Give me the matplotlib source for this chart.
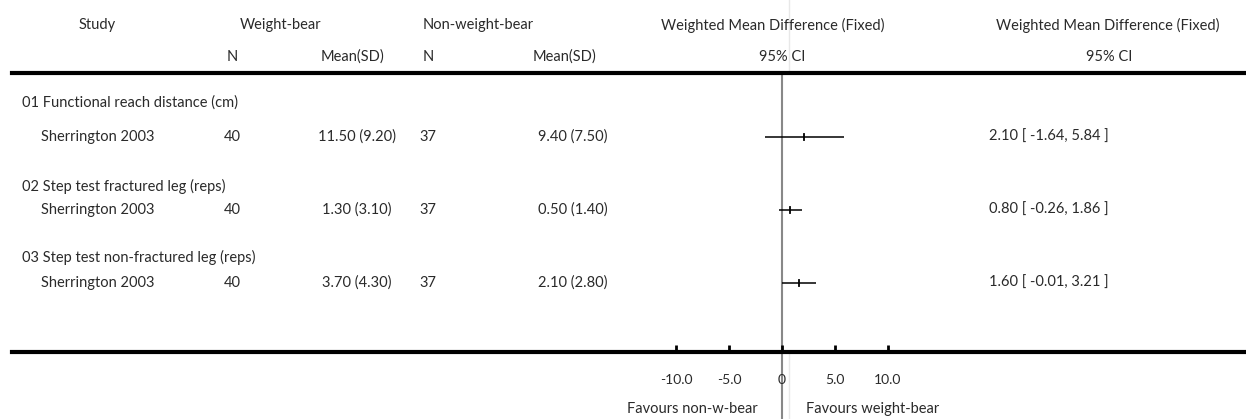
import matplotlib
matplotlib.use("Agg")
import matplotlib.pyplot as plt

# ---------------- data ----------------
groups = ["01 Functional reach distance (cm)",
          "02 Step test fractured leg (reps)",
          "03 Step test non-fractured leg (reps)"]
studies = ["Sherrington 2003", "Sherrington 2003", "Sherrington 2003"]
n_wb = [40, 40, 40]
mean_wb = ["11.50 (9.20)", "1.30 (3.10)", "3.70 (4.30)"]
n_nwb = [37, 37, 37]
mean_nwb = ["9.40 (7.50)", "0.50 (1.40)", "2.10 (2.80)"]
wmd = [2.10, 0.80, 1.60]
ci_low = [-1.64, -0.26, -0.01]
ci_high = [5.84, 1.86, 3.21]
xticks = [-10, -5, 0, 5, 10]
xtick_labels = ["-10.0", "-5.0", "0", "5.0", "10.0"]

# ---------------- layout ----------------
W, H = 1246, 419
fig = plt.figure(figsize=(W / 100, H / 100), dpi=100)
plt.rcParams['font.family'] = ['Lato', 'DejaVu Sans']
TC = '#2a2a2a'
FS = 10.5

def fx(px):
    return px / W

def fy(py):
    return 1 - py / H

x_left_px, x_right_px = 12, 1246
zero_px, px_per_unit = 782, 10.6
ax = fig.add_axes([fx(x_left_px), fy(352), fx(x_right_px) - fx(x_left_px), fy(73) - fy(352)])
ax.set_xlim((x_left_px - zero_px) / px_per_unit, (x_right_px - zero_px) / px_per_unit)
ax.set_ylim(352, 73)

for s in ['left', 'right']:
    ax.spines[s].set_visible(False)
ax.spines['top'].set_linewidth(3)
ax.spines['bottom'].set_linewidth(3)
ax.set_yticks([])
ax.set_xticks(xticks)
ax.set_xticklabels(xtick_labels, fontsize=FS - 0.5, color=TC)
ax.tick_params(axis='x', direction='in', length=5, width=2, pad=16)

ax.axvline(0, ymin=-0.25, ymax=0.99, color='#888888', lw=1.5, clip_on=False, zorder=1)
fig.add_artist(plt.Line2D([fx(789), fx(789)], [0, 1], color='#e8e8e8', lw=1, zorder=0))

group_y = [103, 186, 257]
study_y = [137, 210, 283]

for i in range(len(wmd)):
    y = study_y[i]
    ax.plot([ci_low[i], ci_high[i]], [y, y], color='black', lw=1.1, solid_capstyle='butt', zorder=3)
    ax.plot([wmd[i], wmd[i]], [y - 3, y + 3], color='black', lw=1.3, zorder=3)

def t(x, y, s, ha='center'):
    fig.text(fx(x), fy(y), s, ha=ha, va='center', fontsize=FS, color=TC)

t(97, 25, "Study")
t(281, 25, "Weight-bear")
t(478, 25, "Non-weight-bear")
t(773, 25, "Weighted Mean Difference (Fixed)")
t(1108, 25, "Weighted Mean Difference (Fixed)")
t(232, 57, "N")
t(352, 57, "Mean(SD)")
t(428, 57, "N")
t(565, 57, "Mean(SD)")
t(782, 57, "95% CI")
t(1109, 57, "95% CI")

for i in range(len(groups)):
    t(22, group_y[i], groups[i], ha='left')
    t(41, study_y[i], studies[i], ha='left')
    t(232, study_y[i], str(n_wb[i]))
    t(357, study_y[i], mean_wb[i])
    t(428, study_y[i], str(n_nwb[i]))
    t(573, study_y[i], mean_nwb[i])
    t(989, study_y[i], f"{wmd[i]:.2f} [ {ci_low[i]:.2f}, {ci_high[i]:.2f} ]", ha='left')

t(692, 409, "Favours non-w-bear")
t(873, 409, "Favours weight-bear")

fig.savefig("out.png", dpi=100)
